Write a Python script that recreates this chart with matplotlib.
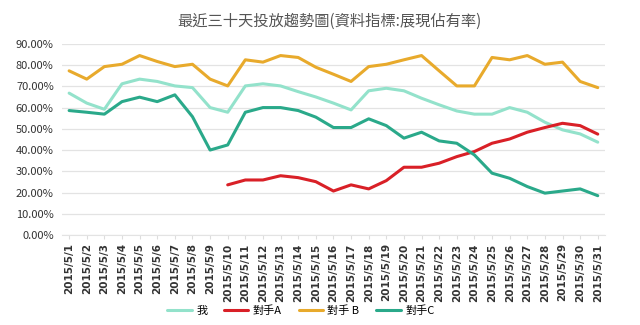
import numpy as np
import matplotlib.pyplot as plt
from matplotlib.ticker import FuncFormatter, MultipleLocator

plt.rcParams['font.family'] = ['Noto Sans CJK TC', 'DejaVu Sans']

# 2015/5/1 .. 2015/5/31
days = [f'2015/5/{d}' for d in range(1, 32)]

# share of impressions (%), per competitor
me = [66.8, 62.1, 59.2, 71.2, 73.4, 72.3, 70.2, 69.4, 60.0, 57.8,
      70.2, 71.2, 70.2, 67.5, 65.0, 62.1, 58.9, 67.9, 69.1, 67.9,
      64.4, 61.3, 58.4, 56.9, 56.9, 60.0, 57.8, 53.1, 49.5, 47.6, 43.7]
rival_a = [None] * 9 + [
    23.6, 25.9, 25.9, 27.9, 27.0, 25.1, 20.7, 23.6, 21.7, 25.6,
    31.9, 31.9, 33.8, 36.9, 39.3, 43.2, 45.2, 48.4, 50.6, 52.6, 51.5, 47.5]
rival_b = [77.3, 73.4, 79.3, 80.4, 84.5, 81.7, 79.3, 80.4, 73.4, 70.2,
           82.5, 81.4, 84.5, 83.6, 79.0, 75.7, 72.3, 79.3, 80.4, 82.5,
           84.5, 77.3, 70.2, 70.2, 83.6, 82.5, 84.5, 80.4, 81.4, 72.3, 69.4]
rival_c = [58.6, 57.8, 56.9, 62.8, 64.9, 62.8, 66.0, 55.7, 40.0, 42.4,
           57.8, 60.0, 60.0, 58.6, 55.5, 50.6, 50.6, 54.7, 51.5, 45.6,
           48.4, 44.3, 43.2, 37.7, 29.1, 26.7, 22.8, 19.7, 20.7, 21.7, 18.5]

series = [
    ('我', me, '#93e2cb'),
    ('對手A', rival_a, '#d92027'),
    ('對手 B', rival_b, '#e8aa2c'),
    ('對手C', rival_c, '#2aa98a'),
]

fig = plt.figure(figsize=(6.4, 3.25), dpi=100)
ax = fig.add_axes([0.097, 0.277, 0.848, 0.588])

x = np.arange(1, len(days) + 1)
for label, vals, color in series:
    y = np.array([np.nan if v is None else v for v in vals], dtype=float)
    ax.plot(x, y, color=color, lw=2.2, label=label, solid_capstyle='round')

ax.set_xlim(0.6, 31.4)
ax.set_ylim(0, 90)
ax.yaxis.set_major_locator(MultipleLocator(10))
ax.yaxis.set_major_formatter(FuncFormatter(lambda v, p: f'{v:.2f}%'))
ax.set_xticks(x)
ax.set_xticklabels(days, rotation=90, fontsize=7.5, fontweight='bold', color='#333333',
                   family=['DejaVu Sans'])
ax.tick_params(axis='y', labelsize=8, length=0, colors='#333333', pad=6)
ax.tick_params(axis='x', length=3, color='#dddddd', pad=3)

ax.grid(axis='y', color='#e3e3e3', lw=0.9)
ax.set_axisbelow(True)
for side in ('top', 'right', 'left'):
    ax.spines[side].set_visible(False)
ax.spines['bottom'].set_color('#e3e3e3')

fig.text(0.515, 0.935, '最近三十天投放趨勢圖(資料指標:展現佔有率)', ha='center', va='center',
         fontsize=11, color='#555555')

fig.legend(loc='center', bbox_to_anchor=(0.47, 0.045), ncol=4, frameon=False,
           fontsize=8, handlelength=2.2, columnspacing=1.5, handletextpad=0.4)

fig.savefig('out.png', dpi=100, facecolor='white')
